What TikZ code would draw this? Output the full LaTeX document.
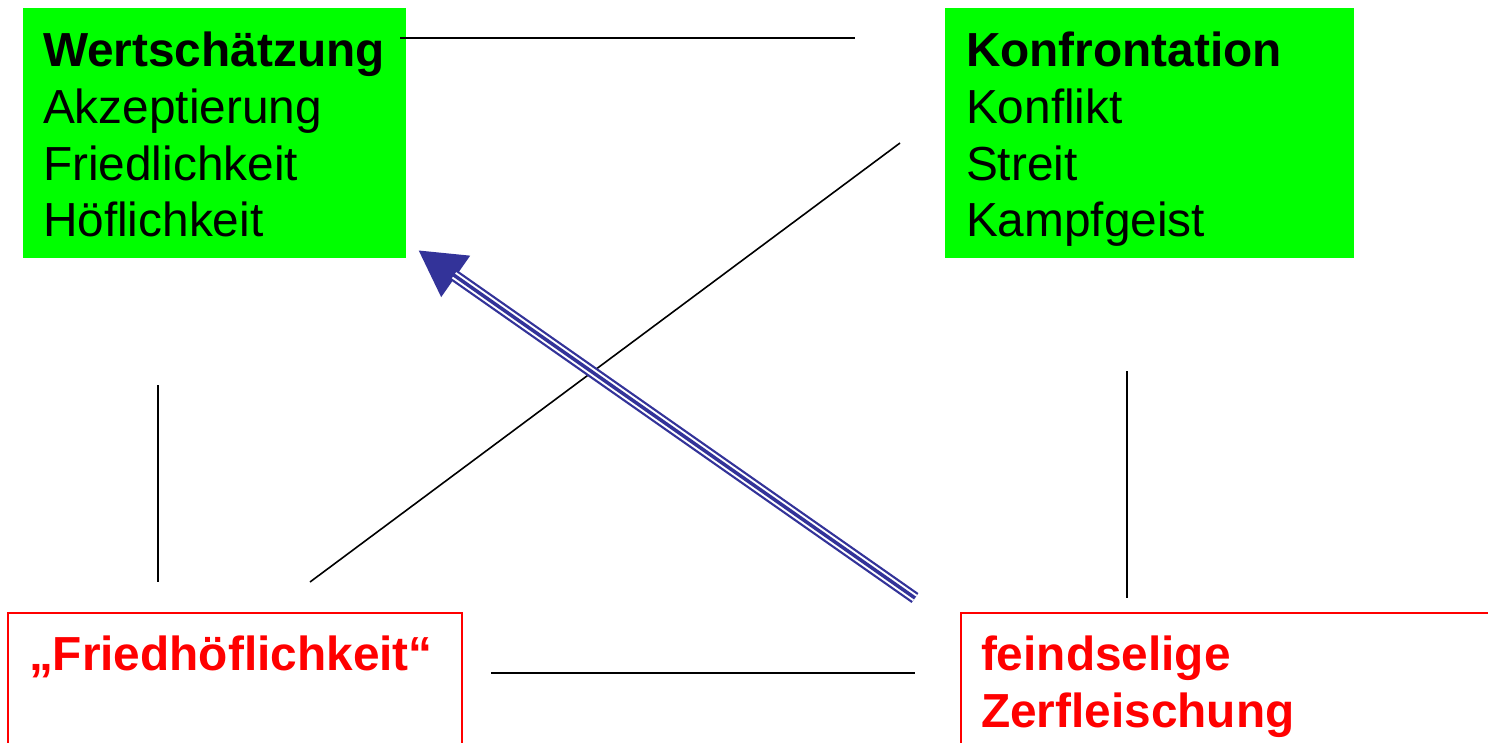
\documentclass[tikz,border=0pt]{standalone}
\usepackage{fontspec}
\setmainfont{Liberation Sans}
\usetikzlibrary{arrows.meta}
\definecolor{boxgreen}{HTML}{00FF00}
\definecolor{boxred}{HTML}{FF0000}
\definecolor{arrowblue}{HTML}{333399}
\begin{document}
\begin{tikzpicture}[x=1pt,y=-1pt,
  greenbox/.style={fill=boxgreen, draw=none, anchor=north west, inner sep=0pt, outer sep=0pt},
  redbox/.style={draw=boxred, line width=2pt, anchor=north west, inner sep=0pt, outer sep=0pt},
  txt/.style={anchor=base west, inner sep=0pt, outer sep=0pt, font=\fontsize{47.8}{57}\selectfont},
  headtxt/.style={txt, font=\fontsize{47.8}{57}\selectfont\bfseries},
  redtxt/.style={txt, text=boxred, font=\fontsize{47.8}{57}\selectfont\bfseries},
  thinline/.style={draw=black, line width=1.6pt}
]
\clip (0,0) rectangle (1488,742);
\fill[white] (0,0) rectangle (1488,742);

% boxes
\node[greenbox, minimum width=383pt, minimum height=250pt] (gl) at (23,8) {};
\node[greenbox, minimum width=409pt, minimum height=250pt] (gr) at (945,8) {};
\node[redbox, minimum width=454pt, minimum height=200pt] (rl) at (8,613) {};
\node[redbox, minimum width=600pt, minimum height=200pt] (rr) at (961,613) {};

% texts
\node[headtxt] (t1) at (43,66) {Wertschätzung};
\node[txt] (t2) at (43,123) {Akzeptierung};
\node[txt] (t3) at (43,180) {Friedlichkeit};
\node[txt] (t4) at (43,236) {Höflichkeit};

\node[headtxt] (k1) at (966,66) {Konfrontation};
\node[txt] (k2) at (966,123) {Konflikt};
\node[txt] (k3) at (966,180) {Streit};
\node[txt] (k4) at (966,236) {Kampfgeist};

\node[redtxt] (f1) at (29,670) {„Friedhöflichkeit“};
\node[redtxt] (z1) at (981,670) {feindselige};
\node[redtxt] (z2) at (981,727) {Zerfleischung};

% connector end points
\coordinate (top1) at (400,38);
\coordinate (top2) at (855,38);
\coordinate (dg1) at (900,143);
\coordinate (dg2) at (310,582);
\coordinate (lv1) at (158,385);
\coordinate (lv2) at (158,582);
\coordinate (rv1) at (1127,371);
\coordinate (rv2) at (1127,598);
\coordinate (bt1) at (491,673);
\coordinate (bt2) at (915,673);
\coordinate (astart) at (915,598);
\coordinate (atip) at (418,250);

\draw[thinline] (top1) -- (top2);
\draw[thinline] (dg1) -- (dg2);
\draw[thinline] (lv1) -- (lv2);
\draw[thinline] (rv1) -- (rv2);
\draw[thinline] (bt1) -- (bt2);

% triple arrow
\draw[arrowblue, line width=12pt, -{Triangle[length=46pt,width=47pt]}] (astart) -- (atip);
\draw[white, line width=7.5pt, shorten >=44pt] (astart) -- (atip);
\draw[arrowblue, line width=3.5pt, shorten >=43pt] (astart) -- (atip);
\end{tikzpicture}
\end{document}
